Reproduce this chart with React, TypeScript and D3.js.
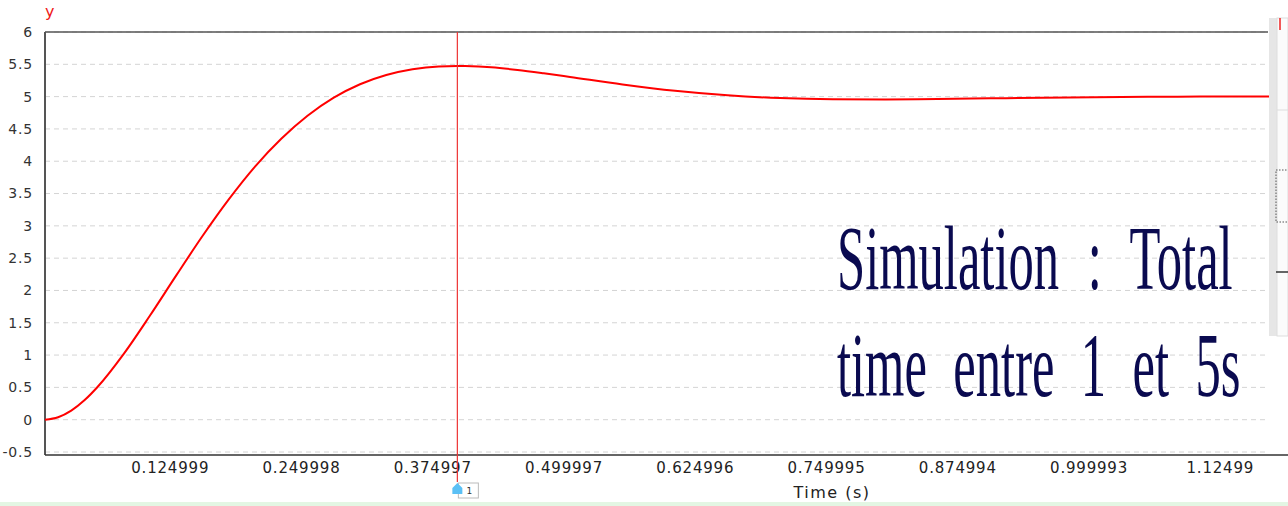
import React from 'react';
import * as d3 from 'd3';

// step response
const times = [0, 0.0125, 0.025, 0.0375, 0.05, 0.075, 0.1, 0.125, 0.15, 0.175, 0.2, 0.225, 0.25, 0.275, 0.3, 0.325, 0.35, 0.375, 0.3927, 0.4, 0.425, 0.45, 0.475, 0.5, 0.55, 0.6, 0.65, 0.7, 0.75, 0.8, 0.85, 0.9, 0.95, 1.0, 1.05, 1.1, 1.1667];
const values = [0, 0.038, 0.14, 0.3, 0.506, 1.019, 1.612, 2.233, 2.842, 3.409, 3.917, 4.347, 4.703, 4.983, 5.191, 5.334, 5.423, 5.467, 5.474, 5.472, 5.453, 5.413, 5.361, 5.304, 5.188, 5.09, 5.02, 4.977, 4.958, 4.955, 4.962, 4.973, 4.984, 4.992, 4.998, 5.0, 5.0];

const yTicks = [-0.5, 0, 0.5, 1, 1.5, 2, 2.5, 3, 3.5, 4, 4.5, 5, 5.5, 6];
const xTicks = [0.124999, 0.249998, 0.374997, 0.499997, 0.624996, 0.749995, 0.874994, 0.999993, 1.12499];
const xTickLabels = ['0.124999', '0.249998', '0.374997', '0.499997', '0.624996', '0.749995', '0.874994', '0.999993', '1.12499'];
const cursorTime = 0.3927;

const W = 1288;
const H = 506;

export default function App() {
  const left = 45, right = 1268, top = 32, bottom = 452;
  const x = d3.scaleLinear().domain([0, 1.1647]).range([left, right]);
  const y = d3.scaleLinear().domain([-0.5, 6]).range([bottom, top]);

  const pts: [number, number][] = times.map((t, i) => [t, values[i]]);
  const line = d3.line<[number, number]>()
    .x(d => x(d[0]))
    .y(d => y(d[1]))
    .curve(d3.curveMonotoneX);

  const cx = x(cursorTime);
  const sans = '"DejaVu Sans", sans-serif';
  const serif = '"Liberation Serif", serif';

  return (
    <svg width={W} height={H} style={{ position: 'absolute', left: 0, top: 0, background: '#fff' }}>
      {/* grid */}
      {yTicks.map(v => (
        <line key={v} x1={left} x2={right} y1={y(v)} y2={y(v)}
          stroke="#d4d4d4" strokeDasharray="5,4" strokeWidth={1} />
      ))}

      {/* frame */}
      <line x1={left} x2={right} y1={top} y2={top} stroke="#555" strokeWidth={1.5} />
      <line x1={left} x2={left} y1={top} y2={bottom + 3} stroke="#555" strokeWidth={2} />
      <line x1={left} x2={right + 20} y1={bottom + 3} y2={bottom + 3} stroke="#333" strokeWidth={1.5} />

      {/* y ticks */}
      {yTicks.map(v => (
        <text key={v} x={33} y={y(v)} dy="0.35em" textAnchor="end"
          fontFamily={sans} fontSize={14} letterSpacing={0.8} fill="#333">{String(v)}</text>
      ))}
      <text x={45} y={17} fontFamily={sans} fontSize={16} fill="#f01818">y</text>

      {/* x ticks */}
      {xTicks.map((v, i) => (
        <text key={v} x={x(v) - 6} y={473} textAnchor="middle"
          fontFamily={sans} fontSize={15} letterSpacing={0.8} fill="#222">{xTickLabels[i]}</text>
      ))}
      <text x={832} y={498} textAnchor="middle" fontFamily={sans} fontSize={16}
        letterSpacing={1.5} fill="#222">Time (s)</text>

      {/* response */}
      <path d={line(pts) || ''} fill="none" stroke="#ff0000" strokeWidth={2} />

      {/* cursor */}
      <line x1={cx} x2={cx} y1={top} y2={482} stroke="#e33" strokeWidth={1.2} />
      <rect x={cx + 1} y={483} width={20} height={15} fill="#fff" stroke="#bbb" />
      <text x={cx + 12} y={494} textAnchor="middle" fontFamily={sans} fontSize={9} fill="#333">1</text>
      <path d={`M${cx - 5},488 L${cx},483 L${cx + 5},488 L${cx + 5},494 L${cx - 5},494 Z`} fill="#5bc0f5" />

      {/* right panel remnants */}
      <rect x={1269} y={18} width={8} height={318} fill="#e6e6e6" />
      <rect x={1277} y={18} width={11} height={318} fill="#fbfbfb" stroke="#ddd" />
      <line x1={1280} x2={1280} y1={18} y2={30} stroke="#e22" strokeWidth={1.5} />
      <rect x={1276} y={170} width={14} height={52} fill="none" stroke="#555" strokeDasharray="1.5,1.5" />
      <line x1={1276} x2={1288} y1={272} y2={272} stroke="#333" strokeWidth={1.5} />
      <line x1={1277} x2={1288} y1={110} y2={110} stroke="#ddd" />

      {/* bottom strip */}
      <rect x={0} y={502} width={W} height={4} fill="#e3f6e3" />

      {/* overlay text */}
      <g transform="translate(837,289) scale(0.55,1)">
        <text x={0} y={0} fontFamily={serif} fontSize={92} wordSpacing={29} fill="#0a0a50">Simulation : Total</text>
      </g>
      <g transform="translate(837,396) scale(0.55,1)">
        <text x={0} y={0} fontFamily={serif} fontSize={92} wordSpacing={25} fill="#0a0a50">time entre 1 et 5s</text>
      </g>
    </svg>
  );
}
